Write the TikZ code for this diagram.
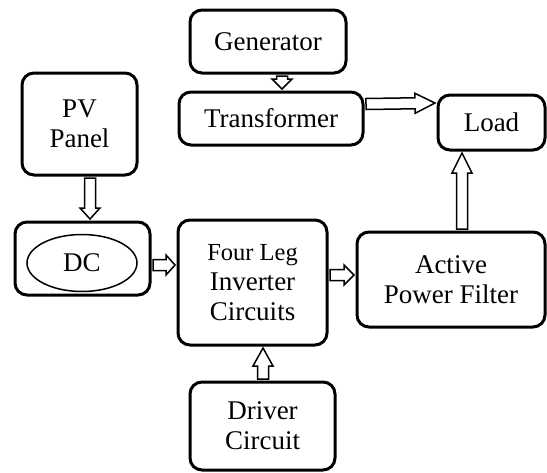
\documentclass[tikz,border=0pt]{standalone}
\usepackage{fontspec}
\setmainfont{Liberation Serif}
\usetikzlibrary{calc,shapes.geometric}
\tikzset{
  blk/.style={draw, line width=3pt, rounded corners=12pt, align=center, inner sep=0pt,
              font=\fontsize{27}{30}\selectfont},
  harrow/.style={draw, fill=white, line width=1.5pt, line join=miter},
}
\def\sw{5.5pt}
\def\hw{10pt}
\newcommand\harr[3]{%
  \coordinate (hb) at ($(#2)!#3!(#1)$);
  \draw[harrow] ($(#1)!\sw!90:(#2)$) -- ($(hb)!\sw!90:(#2)$) -- ($(hb)!\hw!90:(#2)$) -- (#2)
    -- ($(hb)!\hw!-90:(#2)$) -- ($(hb)!\sw!-90:(#2)$) -- ($(#1)!\sw!-90:(#2)$) -- cycle;
}
\begin{document}
\begin{tikzpicture}[x=1pt,y=-1pt]
\useasboundingbox (0,0) rectangle (547,472);
\node[blk, minimum width=156pt, minimum height=63pt] (gen) at (268,41.5) {Generator};
\node[blk, minimum width=184pt, minimum height=53pt] (trans) at (271,118.5) {Transformer};
\node[blk, minimum width=107pt, minimum height=55pt] (load) at (491.5,122.5) {Load};
\node[blk, minimum width=115pt, minimum height=102pt] (pv) at (79.5,124) {PV\\Panel};
\node[blk, minimum width=135pt, minimum height=73pt] (dc) at (82.5,258.5) {};
\node[draw, ellipse, line width=1.5pt, minimum width=110pt, minimum height=57pt, inner sep=0pt,
      font=\fontsize{27}{30}\selectfont] (dce) at (82,263) {DC};
\node[blk, minimum width=149pt, minimum height=125pt] (inv) at (252.5,282.5)
  {{\fontsize{24.5}{29}\selectfont Four Leg}\\Inverter\\Circuits};
\node[blk, minimum width=188pt, minimum height=95pt] (apf) at (451,279.5) {Active\\Power Filter};
\node[blk, minimum width=145pt, minimum height=88pt] (drv) at (262.5,426) {Driver\\Circuit};

\coordinate (a1) at ($(gen.south)+(14,1.5)$);
\coordinate (b1) at ($(trans.north)+(11,-1.5)$);
\harr{a1}{b1}{10pt}
\coordinate (a2) at ($(pv.south)+(10.5,1.5)$);
\coordinate (b2) at ($(dc.north)+(7.5,-1.5)$);
\harr{a2}{b2}{11pt}
\coordinate (a3) at ($(trans.east)+(1.5,-14.5)$);
\coordinate (b3) at ($(load.west)+(-1.5,-19.5)$);
\harr{a3}{b3}{20pt}
\coordinate (a4) at ($(apf.north)+(11,-1.5)$);
\coordinate (b4) at ($(load.south)+(-29.5,1.5)$);
\harr{a4}{b4}{20pt}
\coordinate (a5) at ($(dc.east)+(1.5,6.5)$);
\coordinate (b5) at ($(inv.west)+(-1.5,-17.5)$);
\harr{a5}{b5}{9pt}
\coordinate (a6) at ($(inv.east)+(1.5,-7.5)$);
\coordinate (b6) at ($(apf.west)+(-1.5,-4.5)$);
\harr{a6}{b6}{10pt}
\coordinate (a7) at ($(drv.north)+(0.5,-1.5)$);
\coordinate (b7) at ($(inv.south)+(10.5,1.5)$);
\harr{a7}{b7}{18pt}
\end{tikzpicture}
\end{document}
